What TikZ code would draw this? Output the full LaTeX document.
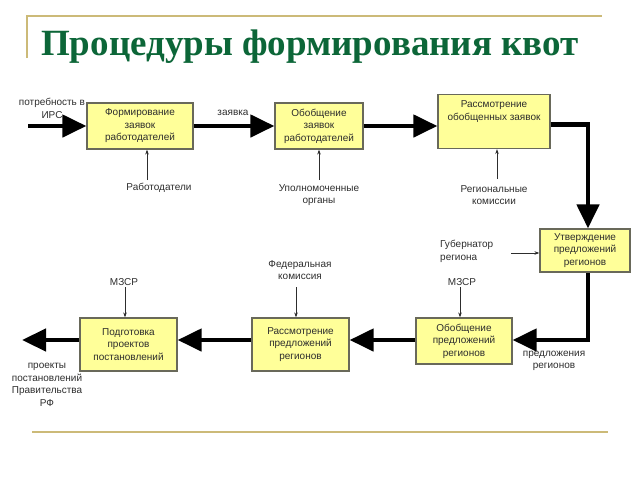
\documentclass[tikz,border=0pt]{standalone}
\usepackage{fontspec}
\setmainfont{Liberation Sans}
\newfontfamily\titlefont{Liberation Serif}
\usetikzlibrary{arrows.meta}
\definecolor{quotagreen}{RGB}{12,102,56}
\definecolor{quotagold}{RGB}{204,186,120}
\definecolor{quotayellow}{RGB}{255,255,153}
\definecolor{quotaedge}{RGB}{105,105,90}
\definecolor{quotatext}{RGB}{45,45,45}

\begin{document}
\begin{tikzpicture}[x=1pt, y=-1pt,
    every node/.style={font=\fontsize{10}{12.5}\selectfont, text=quotatext, align=center, inner sep=0pt},
    stage/.style={draw=quotaedge, line width=1.2pt, fill=quotayellow},
    flow/.style={line width=4.5pt, -{Triangle[length=24pt,width=22pt]}},
    hint/.style={line width=0.6pt, draw=quotatext, -{Stealth[length=5pt,width=3.5pt]}}]

    \useasboundingbox (0,0) rectangle (640,480);

    % frame lines and title
    \draw[quotagold, line width=1.2pt] (27,58) -- (27,16) -- (602,16);
    \draw[quotagold, line width=1.5pt] (32,432) -- (608,432);
    \node[anchor=base west, text=quotagreen, font=\titlefont\bfseries\fontsize{37}{40}\selectfont] (title) at (41,55) {Процедуры формирования квот};

    % stages
    \node[stage, minimum width=106, minimum height=46] (b1) at (140,126) {Формирование\\заявок\\работодателей};
    \node[stage, minimum width=88, minimum height=46] (b2) at (319,126) {Обобщение\\заявок\\работодателей};
    \node[stage, minimum width=112, minimum height=54] (b3) at (494,121.5) {};
    \node[anchor=north] (b3text) at ([yshift=-7pt]b3.north) {Рассмотрение\\обобщенных заявок};
    \node[stage, minimum width=90, minimum height=43] (b4) at (585,250.5) {Утверждение\\предложений\\регионов};
    \node[stage, minimum width=96, minimum height=46] (b5) at (464,341) {Обобщение\\предложений\\регионов};
    \node[stage, minimum width=97, minimum height=53] (b6) at (300.5,344.5) {Рассмотрение\\предложений\\регионов};
    \node[stage, minimum width=97, minimum height=53] (b7) at (128.5,344.5) {Подготовка\\проектов\\постановлений};

    % main flow
    \coordinate (in) at (28,126);
    \coordinate (out) at (22,340);
    \draw[flow] (in) -- (b1.west);
    \draw[flow] (b1.east) -- (b2.west);
    \draw[flow] (b2.east) -- (b2.east -| b3.west);
    \draw[flow] ([yshift=-3pt]b3.east) -| ([xshift=3pt]b4.north);
    \draw[flow] ([xshift=3pt]b4.south) |- ([yshift=1pt]b5.east);
    \draw[flow] ([yshift=1pt]b5.west) -- ([yshift=1pt]b5.west -| b6.east);
    \draw[flow] ([yshift=4.5pt]b6.west) -- ([yshift=4.5pt]b7.east);
    \draw[flow] ([yshift=4.5pt]b7.west) -- (out);

    % flow labels
    \node (need) at (52,108.5) {потребность в\\ИРС};
    \node (claim) at (233,113) {заявка};
    \node (offers) at (554,361) {предложения\\регионов};
    \node (drafts) at (47,385) {проекты\\постановлений\\Правительства\\РФ};

    % participants
    \node (employers) at (159,188) {Работодатели};
    \node (bodies) at (319,195) {Уполномоченные\\органы};
    \node (regional) at (494,195) {Региональные\\комиссии};
    \node[anchor=west, align=left] (governor) at (440,251.5) {Губернатор\\региона};
    \node (mzsr1) at (462,282) {МЗСР};
    \node (federal) at (300,270) {Федеральная\\комиссия};
    \node (mzsr2) at (124,282) {МЗСР};

    \coordinate (e1) at (147,180);
    \coordinate (e2) at (319,180);
    \coordinate (e3) at (497,179);
    \coordinate (e4) at (511,253);
    \coordinate (e5) at (460,287);
    \coordinate (e6) at (296,287);
    \coordinate (e7) at (125,287);
    \draw[hint] (e1) -- (e1 |- b1.south);
    \draw[hint] (e2) -- (e2 |- b2.south);
    \draw[hint] (e3) -- (e3 |- b3.south);
    \draw[hint] (e4) -- (e4 -| b4.west);
    \draw[hint] (e5) -- (e5 |- b5.north);
    \draw[hint] (e6) -- (e6 |- b6.north);
    \draw[hint] (e7) -- (e7 |- b7.north);

\end{tikzpicture}
\end{document}
